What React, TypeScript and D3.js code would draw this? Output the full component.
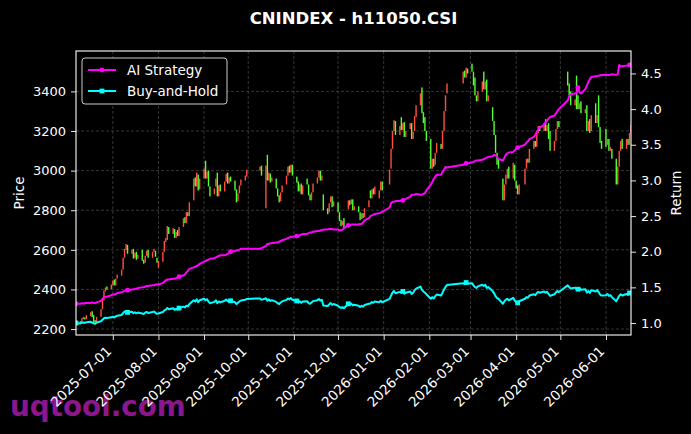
import React, { useRef, useEffect } from "react";
import * as d3 from "d3";

// [open, close] for each trading day
const px2506 = [
  [2225, 2245], [2240, 2232], [2235, 2255], [2250, 2262], [2258, 2248], [2250, 2270],
  [2265, 2285], [2290, 2260], [2270, 2232], [2245, 2225], [2225, 2262],
  [2262, 2300], [2300, 2350], [2345, 2395], [2390, 2410], [2415, 2400],
  [2400, 2425],
];
const px2507 = [
  [2420, 2445], [2450, 2420], [2420, 2455], [2455, 2475],
  [2470, 2500], [2500, 2560], [2560, 2605], [2600, 2630], [2625, 2580],
  [2580, 2600], [2605, 2555], [2560, 2585], [2590, 2550], [2555, 2575],
  [2600, 2545], [2550, 2530], [2535, 2570], [2570, 2595], [2600, 2560],
  [2560, 2590], [2590, 2605], [2595, 2565], [2560, 2535],
];
const px2508 = [
  [2510, 2545],
  [2540, 2590], [2590, 2645], [2640, 2660], [2650, 2720], [2715, 2680],
  [2680, 2710], [2705, 2660], [2660, 2690], [2700, 2670], [2670, 2715],
  [2715, 2760], [2765, 2735], [2735, 2790], [2790, 2770], [2770, 2840],
  [2850, 2960], [2965, 2920], [2920, 2990], [2980, 2900], [2905, 2960],
];
const px2509 = [
  [2960, 3010], [3050, 2960], [2960, 2995], [3000, 2920], [2920, 2870],
  [2880, 2910], [2920, 2960], [2990, 2870], [2870, 2925], [2930, 2895],
  [2895, 2945], [2945, 2985], [2990, 2935], [2935, 2965], [2970, 2945],
  [2950, 2900], [2905, 2840], [2845, 2885], [2885, 2925], [2925, 2955],
  [2950, 2975], [2970, 3005],
];
const px2510 = [
  [3000, 3020], [3025, 2975],
  [2810, 3025], [3080, 2950], [2950, 2990], [2985, 2940], [2945, 2965],
  [2960, 2910], [2910, 2870], [2875, 2840], [2845, 2890], [2890, 2925],
  [2930, 2975], [2975, 3020], [3025, 2990], [2990, 3030], [3030, 2975],
];
const px2511 = [
  [2970, 2940], [2945, 2895], [2895, 2930], [2935, 2880], [2880, 2925],
  [2960, 2930], [2930, 2875], [2880, 2850], [2850, 2890], [2890, 2935],
  [2935, 2965], [2965, 3000], [3000, 2950], [2950, 2975], [2880, 2800],
  [2810, 2780], [2790, 2835], [2840, 2870], [2870, 2815], [2820, 2845],
];
const px2512 = [
  [2840, 2790], [2790, 2745], [2750, 2720], [2725, 2745], [2760, 2710],
  [2805, 2850], [2850, 2825], [2830, 2855], [2855, 2800], [2800, 2820],
  [2820, 2790], [2790, 2750], [2755, 2785], [2785, 2760], [2765, 2810],
  [2815, 2850], [2900, 2860], [2860, 2905], [2910, 2880], [2880, 2920],
  [2860, 2900], [2900, 2945], [2945, 2900],
];
const px2601 = [
  [2930, 3005], [3010, 3110], [3110, 3200], [3200, 3255], [3250, 3180],
  [3180, 3225], [3270, 3205], [3205, 3240], [3245, 3170], [3170, 3200],
  [3210, 3240], [3240, 3160], [3160, 3195], [3200, 3275], [3270, 3330],
  [3330, 3390], [3420, 3290], [3295, 3240], [3270, 3200], [3200, 3150],
];
const px2602 = [
  [3160, 3010], [3010, 3060], [3060, 3020], [3030, 3090], [3090, 3140],
  [3135, 3110], [3110, 3200], [3200, 3300], [3300, 3380], [3390, 3440],
  [3440, 3500], [3505, 3470], [3470, 3520], [3515, 3490],
];
const px2603 = [
  [3540, 3500], [3500, 3430], [3470, 3380], [3380, 3350], [3350, 3400],
  [3400, 3450], [3500, 3410], [3410, 3450], [3460, 3350], [3350, 3380],
  [3320, 3250], [3250, 3180], [3180, 3090], [3090, 3030], [3060, 3010],
  [2960, 2850], [2850, 2930], [2930, 2980], [2960, 3010], [3020, 2960],
  [2960, 3040], [3030, 2950],
];
const px2604 = [
  [2950, 2910], [2925, 2880], [2880, 2930],
  [2930, 3010], [3010, 3060], [3060, 3040], [3040, 3110],
  [3110, 3150], [3150, 3120], [3120, 3190], [3190, 3225], [3225, 3200],
  [3200, 3240], [3260, 3200], [3200, 3230], [3240, 3160], [3200, 3100],
  [3100, 3150], [3150, 3210], [3210, 3250], [3250, 3220],
];
const px2605 = [
  [3500, 3430], [3440, 3380], [3400, 3330],
  [3330, 3360], [3480, 3310], [3380, 3310], [3310, 3340], [3350, 3290],
  [3290, 3310], [3330, 3200], [3200, 3250], [3260, 3190], [3200, 3280],
  [3340, 3240], [3240, 3280], [3380, 3220], [3220, 3140], [3150, 3110],
];
const px2606 = [
  [3210, 3120], [3130, 3160], [3160, 3100], [3100, 3120], [3110, 3060],
  [3060, 2930], [2930, 3020], [3020, 3100], [3100, 3150], [3160, 3110],
  [3110, 3160], [3160, 3130], [3130, 3190], [3190, 3230],
];

// AI strategy cumulative return, per trading day
const ai2506 = [1.27, 1.27, 1.28, 1.27, 1.28, 1.28, 1.28, 1.29, 1.28, 1.28, 1.29, 1.31, 1.34, 1.36, 1.37, 1.37, 1.39];
const ai2507 = [1.40, 1.40, 1.41, 1.42, 1.43, 1.44, 1.45, 1.46, 1.46, 1.47, 1.47, 1.48, 1.48, 1.49, 1.50, 1.50, 1.51, 1.52, 1.52, 1.53, 1.53, 1.54, 1.54];
const ai2508 = [1.54, 1.56, 1.58, 1.60, 1.61, 1.61, 1.62, 1.62, 1.63, 1.64, 1.65, 1.67, 1.68, 1.71, 1.73, 1.76, 1.78, 1.79, 1.80, 1.81, 1.83];
const ai2509 = [1.86, 1.87, 1.88, 1.89, 1.90, 1.91, 1.92, 1.93, 1.94, 1.95, 1.95, 1.96, 1.97, 1.98, 2.00, 2.01, 2.02, 2.02, 2.03, 2.04, 2.04, 2.04];
const ai2510 = [2.04, 2.05, 2.08, 2.11, 2.11, 2.12, 2.12, 2.13, 2.13, 2.14, 2.15, 2.16, 2.18, 2.19, 2.20, 2.21, 2.21];
const ai2511 = [2.22, 2.22, 2.23, 2.24, 2.25, 2.25, 2.26, 2.27, 2.27, 2.28, 2.29, 2.29, 2.30, 2.30, 2.31, 2.31, 2.32, 2.32, 2.32, 2.31];
const ai2512 = [2.31, 2.30, 2.30, 2.31, 2.33, 2.37, 2.37, 2.38, 2.38, 2.38, 2.38, 2.39, 2.39, 2.41, 2.44, 2.47, 2.50, 2.51, 2.52, 2.53, 2.54, 2.55, 2.56];
const ai2601 = [2.62, 2.68, 2.70, 2.70, 2.71, 2.71, 2.72, 2.72, 2.73, 2.74, 2.77, 2.80, 2.80, 2.80, 2.81, 2.80, 2.80, 2.81, 2.82, 2.86];
const ai2602 = [2.94, 2.98, 3.02, 3.05, 3.08, 3.08, 3.12, 3.15, 3.19, 3.18, 3.22, 3.23, 3.24, 3.24];
const ai2603 = [3.25, 3.26, 3.27, 3.28, 3.28, 3.29, 3.30, 3.31, 3.32, 3.33, 3.34, 3.36, 3.35, 3.33, 3.30, 3.28, 3.32, 3.36, 3.38, 3.39, 3.40, 3.42];
const ai2604 = [3.44, 3.46, 3.47, 3.50, 3.53, 3.55, 3.58, 3.61, 3.64, 3.68, 3.71, 3.74, 3.78, 3.82, 3.84, 3.87, 3.89, 3.91, 3.94, 3.97, 4.00];
const ai2605 = [4.12, 4.18, 4.21, 4.22, 4.22, 4.30, 4.24, 4.22, 4.28, 4.33, 4.38, 4.42, 4.45, 4.46, 4.46, 4.47, 4.47, 4.48];
const ai2606 = [4.48, 4.48, 4.48, 4.48, 4.49, 4.48, 4.49, 4.62, 4.60, 4.60, 4.61, 4.61, 4.62, 4.64];

// exchange closures in the range
const holidays = [
  "2025-10-01", "2025-10-02", "2025-10-03", "2025-10-06", "2025-10-07", "2025-10-08",
  "2026-01-01", "2026-01-02",
  "2026-02-16", "2026-02-17", "2026-02-18", "2026-02-19", "2026-02-20", "2026-02-23",
  "2026-04-06", "2026-05-01", "2026-05-04", "2026-05-05",
];

const priceTicks = [2200, 2400, 2600, 2800, 3000, 3200, 3400];
const returnTicks = [1.0, 1.5, 2.0, 2.5, 3.0, 3.5, 4.0, 4.5];

const W = 691;
const H = 434;
const left = 76, right = 631, top = 51, bottom = 335;
const FONT = "DejaVu Sans, sans-serif";
const UP = "#ff4f3f";
const DOWN = "#55ff33";

const App: React.FC = () => {
  const svgRef = useRef<SVGSVGElement | null>(null);

  useEffect(() => {
    if (!svgRef.current) return;
    const svg = d3.select(svgRef.current);
    svg.selectAll("*").remove();

    const fmt = d3.utcFormat("%Y-%m-%d");
    const closed = new Set(holidays);
    const days = d3
      .utcDay.range(new Date(Date.UTC(2025, 5, 6)), new Date(Date.UTC(2026, 5, 19)))
      .filter((d) => d.getUTCDay() % 6 !== 0 && !closed.has(fmt(d)));

    const oc = [
      ...px2506, ...px2507, ...px2508, ...px2509, ...px2510, ...px2511, ...px2512,
      ...px2601, ...px2602, ...px2603, ...px2604, ...px2605, ...px2606,
    ];
    const ai = [
      ...ai2506, ...ai2507, ...ai2508, ...ai2509, ...ai2510, ...ai2511, ...ai2512,
      ...ai2601, ...ai2602, ...ai2603, ...ai2604, ...ai2605, ...ai2606,
    ];
    const base = oc[0][1];
    const data = days.slice(0, oc.length).map((date, i) => ({
      date,
      open: oc[i][0],
      close: oc[i][1],
      ai: ai[i],
      bh: oc[i][1] / base,
    }));

    const x = d3
      .scaleUtc()
      .domain([days[0], days[days.length - 1]])
      .range([left, right]);
    const y = d3.scaleLinear().domain([2170, 3604]).range([bottom, top]);
    const yR = d3.scaleLinear().domain([0.832, 4.815]).range([bottom, top]);
    const monthTicks = d3.utcMonth.range(new Date(Date.UTC(2025, 6, 1)), new Date(Date.UTC(2026, 6, 1)));

    svg.append("rect").attr("width", W).attr("height", H).attr("fill", "#000");

    // watermark sits under the tick labels
    svg
      .append("text")
      .attr("x", 10)
      .attr("y", 416)
      .attr("fill", "#8c168c")
      .attr("font-family", FONT)
      .attr("font-weight", "bold")
      .attr("font-size", 27.8)
      .text("uqtool.com");

    // grid
    const grid = svg.append("g").attr("stroke", "#5a5a5a").attr("stroke-width", 0.6).attr("stroke-dasharray", "3,2");
    grid
      .selectAll("line.v")
      .data(monthTicks)
      .join("line")
      .attr("x1", (d) => x(d))
      .attr("x2", (d) => x(d))
      .attr("y1", top)
      .attr("y2", bottom);
    grid
      .selectAll("line.h")
      .data(priceTicks)
      .join("line")
      .attr("x1", left)
      .attr("x2", right)
      .attr("y1", (d) => y(d))
      .attr("y2", (d) => y(d));

    svg
      .append("clipPath")
      .attr("id", "plot")
      .append("rect")
      .attr("x", left)
      .attr("y", top)
      .attr("width", right - left)
      .attr("height", bottom - top);
    const plot = svg.append("g").attr("clip-path", "url(#plot)");

    // candles
    plot
      .append("g")
      .selectAll("rect")
      .data(data)
      .join("rect")
      .attr("x", (d) => x(d.date) - 0.7)
      .attr("width", 1.4)
      .attr("y", (d) => y(Math.max(d.open, d.close)))
      .attr("height", (d) => Math.max(1, Math.abs(y(d.open) - y(d.close))))
      .attr("fill", (d) => (d.close >= d.open ? UP : DOWN));

    // return lines on the right axis
    const series = [
      { key: "bh", color: "#00ffff", marker: "square" },
      { key: "ai", color: "#ff00ff", marker: "circle" },
    ];
    series.forEach((s) => {
      const line = d3
        .line<any>()
        .x((d) => x(d.date))
        .y((d) => yR(d[s.key]));
      plot
        .append("path")
        .datum(data)
        .attr("fill", "none")
        .attr("stroke", s.color)
        .attr("stroke-width", 2)
        .attr("stroke-linejoin", "round")
        .attr("d", line);
      const marks = data.filter((_, i) => i % 25 === 0);
      if (s.marker === "circle") {
        plot
          .append("g")
          .selectAll("circle")
          .data(marks)
          .join("circle")
          .attr("cx", (d) => x(d.date))
          .attr("cy", (d) => yR(d.ai))
          .attr("r", 2.4)
          .attr("fill", s.color);
      } else {
        plot
          .append("g")
          .selectAll("rect")
          .data(marks)
          .join("rect")
          .attr("x", (d) => x(d.date) - 2.4)
          .attr("y", (d) => yR(d.bh) - 2.4)
          .attr("width", 4.8)
          .attr("height", 4.8)
          .attr("fill", s.color);
      }
    });

    // axes
    const styleAxis = (g: any) => {
      g.select(".domain").remove();
      g.selectAll(".tick line").attr("stroke", "#fff").attr("stroke-width", 0.9);
      g.selectAll(".tick text").attr("fill", "#fff").attr("font-family", FONT).attr("font-size", 13);
    };

    svg
      .append("g")
      .attr("transform", `translate(${left},0)`)
      .call(d3.axisLeft(y).tickValues(priceTicks).tickSize(5).tickPadding(5).tickFormat(d3.format("d")))
      .call(styleAxis);

    svg
      .append("g")
      .attr("transform", `translate(${right},0)`)
      .call(d3.axisRight(yR).tickValues(returnTicks).tickSize(5).tickPadding(5).tickFormat(d3.format(".1f")))
      .call(styleAxis);

    svg
      .append("g")
      .attr("transform", `translate(0,${bottom})`)
      .call(d3.axisBottom(x).tickValues(monthTicks).tickSize(5).tickFormat((d: any) => fmt(d)))
      .call(styleAxis)
      .call((g: any) =>
        g
          .selectAll(".tick text")
          .attr("text-anchor", "end")
          .attr("dy", null)
          .attr("y", null)
          .attr("font-size", 13.6)
          .attr("transform", "translate(-1,17) rotate(-45)")
      );

    // frame
    svg
      .append("rect")
      .attr("x", left)
      .attr("y", top)
      .attr("width", right - left)
      .attr("height", bottom - top)
      .attr("fill", "none")
      .attr("stroke", "#fff")
      .attr("stroke-width", 1.1);

    // axis titles
    svg
      .append("text")
      .attr("transform", `translate(24,${(top + bottom) / 2}) rotate(-90)`)
      .attr("text-anchor", "middle")
      .attr("fill", "#fff")
      .attr("font-family", FONT)
      .attr("font-size", 13.5)
      .text("Price");
    svg
      .append("text")
      .attr("transform", `translate(681,${(top + bottom) / 2}) rotate(-90)`)
      .attr("text-anchor", "middle")
      .attr("fill", "#fff")
      .attr("font-family", FONT)
      .attr("font-size", 13.5)
      .text("Return");

    svg
      .append("text")
      .attr("x", (left + right) / 2)
      .attr("y", 24)
      .attr("text-anchor", "middle")
      .attr("fill", "#fff")
      .attr("font-family", FONT)
      .attr("font-weight", "bold")
      .attr("font-size", 16.5)
      .text("CNINDEX - h11050.CSI");

    // legend
    const legend = svg.append("g");
    legend
      .append("rect")
      .attr("x", 82)
      .attr("y", 58)
      .attr("width", 145)
      .attr("height", 46)
      .attr("rx", 3)
      .attr("fill", "#000")
      .attr("stroke", "#cccccc")
      .attr("stroke-width", 1);
    const items = [
      { label: "AI Strategy", color: "#ff00ff", marker: "circle" },
      { label: "Buy-and-Hold", color: "#00ffff", marker: "square" },
    ];
    items.forEach((it, i) => {
      const ly = 70 + i * 21;
      legend
        .append("line")
        .attr("x1", 88)
        .attr("x2", 116)
        .attr("y1", ly)
        .attr("y2", ly)
        .attr("stroke", it.color)
        .attr("stroke-width", 2);
      if (it.marker === "circle") {
        legend.append("circle").attr("cx", 102).attr("cy", ly).attr("r", 2.4).attr("fill", it.color);
      } else {
        legend
          .append("rect")
          .attr("x", 99.6)
          .attr("y", ly - 2.4)
          .attr("width", 4.8)
          .attr("height", 4.8)
          .attr("fill", it.color);
      }
      legend
        .append("text")
        .attr("x", 127)
        .attr("y", ly + 5)
        .attr("fill", "#fff")
        .attr("font-family", FONT)
        .attr("font-size", 13.5)
        .text(it.label);
    });
  }, []);

  return (
    <svg
      ref={svgRef}
      width={W}
      height={H}
      style={{ position: "absolute", left: 0, top: 0, display: "block" }}
    />
  );
};

export default App;
